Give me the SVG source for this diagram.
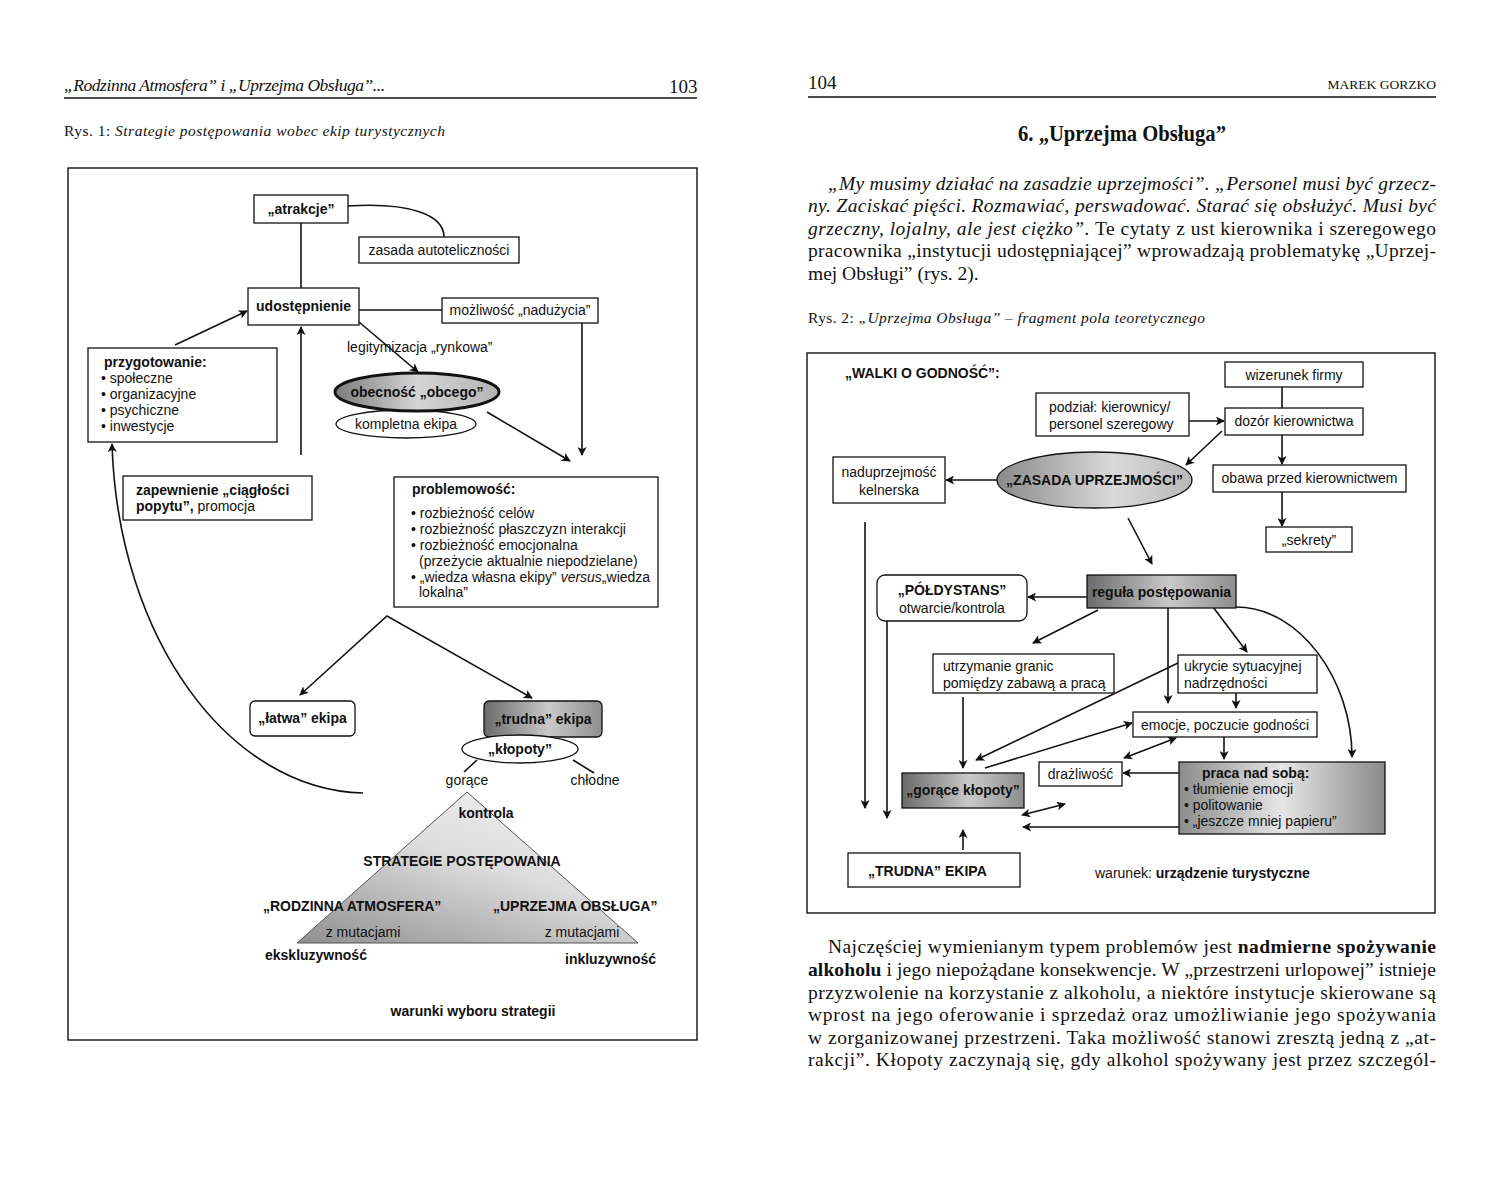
<svg xmlns="http://www.w3.org/2000/svg" width="1500" height="1204" viewBox="0 0 1500 1204">
<style>
.s{font-family:"Liberation Sans",Arial,sans-serif;font-size:14px;fill:#111}
.b{font-weight:bold}
.c{text-anchor:middle}
.serif{font-family:"Liberation Serif","Times New Roman",serif;fill:#111}
.it{font-style:italic}
.box{fill:#fff;stroke:#111;stroke-width:1.3}
.ln{fill:none;stroke:#111;stroke-width:1.6}
.ar{fill:none;stroke:#111;stroke-width:1.6;marker-end:url(#ah)}
.dar{fill:none;stroke:#111;stroke-width:1.6;marker-end:url(#ah);marker-start:url(#ah)}
</style>
<defs>
<marker id="ah" viewBox="0 0 10 10" refX="9" refY="5" markerWidth="11" markerHeight="9" markerUnits="userSpaceOnUse" orient="auto-start-reverse">
<path d="M0,0 L10,5 L0,10 L2.5,5 z" fill="#111"/>
</marker>
<linearGradient id="gObec" x1="0" y1="0" x2="1" y2="0">
<stop offset="0" stop-color="#7c7c7c"/><stop offset="0.5" stop-color="#d4d4d4"/><stop offset="1" stop-color="#b4b4b4"/>
</linearGradient>
<linearGradient id="gDark" x1="0" y1="0" x2="1" y2="0">
<stop offset="0" stop-color="#6a6a6a"/><stop offset="0.55" stop-color="#c9c9c9"/><stop offset="1" stop-color="#8e8e8e"/>
</linearGradient>
<linearGradient id="gTri" x1="0" y1="1" x2="0.7" y2="0">
<stop offset="0" stop-color="#8f8f8f"/><stop offset="0.6" stop-color="#dcdcdc"/><stop offset="1" stop-color="#eeeeee"/>
</linearGradient>
<linearGradient id="gZas" x1="0" y1="0" x2="1" y2="0">
<stop offset="0" stop-color="#8a8a8a"/><stop offset="0.6" stop-color="#dadada"/><stop offset="1" stop-color="#b8b8b8"/>
</linearGradient>
<linearGradient id="gPraca" x1="0" y1="0" x2="1" y2="0">
<stop offset="0" stop-color="#8c8c8c"/><stop offset="0.5" stop-color="#e6e6e6"/><stop offset="1" stop-color="#8a8a8a"/>
</linearGradient>
</defs>
<rect width="1500" height="1204" fill="#fff"/>

<!-- ===== LEFT PAGE ===== -->
<g id="left-header">
<text class="serif it" x="64" y="91" font-size="17.5" textLength="321" lengthAdjust="spacing">„Rodzinna Atmosfera” i „Uprzejma Obsługa”...</text>
<text class="serif" x="669" y="93" font-size="19">103</text>
<line x1="64" y1="98" x2="697" y2="98" stroke="#111" stroke-width="1.3"/>
<text class="serif" x="64" y="136" font-size="15.5" textLength="381" lengthAdjust="spacing">Rys. 1: <tspan class="it">Strategie postępowania wobec ekip turystycznych</tspan></text>
</g>
<rect id="frame1" x="68" y="168" width="629" height="872" fill="none" stroke="#111" stroke-width="1.4"/>

<g id="connectors1">
<path class="ln" d="M348,206 C410,202 444,215 444,237" stroke-width="2"/>
<line class="ln" x1="301" y1="223" x2="301" y2="288"/>
<line class="ln" x1="359" y1="310" x2="442" y2="310"/>
<line class="ar" x1="582" y1="323" x2="582" y2="455"/>
<line class="ar" x1="359" y1="322" x2="418" y2="372"/>
<line class="ar" x1="487" y1="412" x2="570" y2="461"/>
<line class="ar" x1="175" y1="345" x2="247" y2="311"/>
<line class="ar" x1="301" y1="455" x2="301" y2="327"/>
<path class="ar" d="M363,793 C230,790 118,640 112,444"/>
<polyline class="ln" points="300,695 387,616 532,698" marker-start="url(#ah)" marker-end="url(#ah)"/>
<line class="ln" x1="477" y1="760" x2="464" y2="772"/>
<line class="ln" x1="573" y1="760" x2="594" y2="773"/>
</g>

<g id="n-atrakcje"><rect class="box" x="254" y="195" width="94" height="28"/><text class="s b c" x="301" y="214">„atrakcje”</text></g>
<g id="n-zasada-auto"><rect class="box" x="359" y="237" width="160" height="26"/><text class="s c" x="439" y="255">zasada autoteliczności</text></g>
<g id="n-udostepnienie"><rect class="box" x="248" y="288" width="111" height="37"/><text class="s b c" x="303.5" y="311">udostępnienie</text></g>
<g id="n-mozliwosc"><rect class="box" x="442" y="298" width="156" height="25"/><text class="s c" x="520" y="315">możliwość „nadużycia”</text></g>
<g id="n-legitymizacja"><text class="s" x="347" y="352">legitymizacja „rynkowa”</text></g>
<g id="n-kompletna"><ellipse cx="406" cy="424" rx="70" ry="14" fill="#fff" stroke="#111" stroke-width="1.3"/><text class="s c" x="406" y="429">kompletna ekipa</text></g>
<g id="n-obecnosc"><ellipse cx="417" cy="392" rx="82" ry="19" fill="url(#gObec)" stroke="#111" stroke-width="3"/><text class="s b c" x="417" y="397">obecność „obcego”</text></g>
<g id="n-przygotowanie"><rect class="box" x="88" y="348" width="189" height="94"/>
<text class="s b" x="104" y="367">przygotowanie:</text>
<text class="s" x="101" y="383">• społeczne</text>
<text class="s" x="101" y="399">• organizacyjne</text>
<text class="s" x="101" y="415">• psychiczne</text>
<text class="s" x="101" y="431">• inwestycje</text></g>
<g id="n-zapewnienie"><rect class="box" x="123" y="476" width="189" height="44"/>
<text class="s b" x="136" y="495">zapewnienie „ciągłości</text>
<text class="s" x="136" y="511"><tspan class="b">popytu”,</tspan> promocja</text></g>
<g id="n-problemowosc"><rect class="box" x="394" y="477" width="264" height="130"/>
<text class="s b" x="412" y="494">problemowość:</text>
<text class="s" x="411" y="518">• rozbieżność celów</text>
<text class="s" x="411" y="534">• rozbieżność płaszczyzn interakcji</text>
<text class="s" x="411" y="550">• rozbieżność emocjonalna</text>
<text class="s" x="419" y="566">(przeżycie aktualnie niepodzielane)</text>
<text class="s" x="411" y="582">• „wiedza własna ekipy” <tspan font-style="italic">versus</tspan>„wiedza</text>
<text class="s" x="419" y="597">lokalna”</text></g>
<g id="n-latwa"><rect class="box" x="250" y="701" width="105" height="35" rx="5"/><text class="s b c" x="302.5" y="723">„łatwa” ekipa</text></g>
<g id="n-trudna"><rect x="484" y="701" width="118" height="36" rx="5" fill="url(#gDark)" stroke="#111" stroke-width="1.3"/><text class="s b c" x="543" y="724">„trudna” ekipa</text></g>
<g id="n-klopoty"><ellipse cx="520" cy="749" rx="58" ry="14" fill="#fff" stroke="#111" stroke-width="1.3"/><text class="s b c" x="520" y="754">„kłopoty”</text></g>
<g id="n-gorace"><text class="s c" x="467" y="785">gorące</text></g>
<g id="n-chlodne"><text class="s c" x="595" y="785">chłodne</text></g>
<g id="n-triangle"><polygon points="467,792 297,943 638,943" fill="url(#gTri)" stroke="#555" stroke-width="1"/>
<text class="s b c" x="486" y="818">kontrola</text>
<text class="s b c" x="462" y="866">STRATEGIE POSTĘPOWANIA</text>
<text class="s b" x="263" y="911">„RODZINNA ATMOSFERA”</text>
<text class="s b" x="493" y="911">„UPRZEJMA OBSŁUGA”</text>
<text class="s c" x="363" y="937">z mutacjami</text>
<text class="s c" x="582" y="937">z mutacjami</text>
<text class="s b" x="265" y="960">ekskluzywność</text>
<text class="s b" x="565" y="964">inkluzywność</text></g>
<g id="n-warunki"><text class="s b c" x="473" y="1016">warunki wyboru strategii</text></g>

<!-- ===== RIGHT PAGE ===== -->
<g id="right-header">
<text class="serif" x="808" y="89" font-size="19">104</text>
<text class="serif" x="1436" y="89" font-size="13.5" text-anchor="end">MAREK GORZKO</text>
<line x1="808" y1="97" x2="1436" y2="97" stroke="#111" stroke-width="1.3"/>
<text class="serif" x="1122" y="141" font-size="22.5" font-weight="bold" text-anchor="middle" textLength="208" lengthAdjust="spacingAndGlyphs">6. „Uprzejma Obsługa”</text>
<text class="serif" font-size="19.5" x="828" y="190" textLength="608" lengthAdjust="spacing"><tspan class="it">„My musimy działać na zasadzie uprzejmości”. „Personel musi być grzecz-</tspan></text>
<text class="serif" font-size="19.5" x="808" y="212" textLength="628" lengthAdjust="spacing"><tspan class="it">ny. Zaciskać pięści. Rozmawiać, perswadować. Starać się obsłużyć. Musi być</tspan></text>
<text class="serif" font-size="19.5" x="808" y="235" textLength="628" lengthAdjust="spacing"><tspan class="it">grzeczny, lojalny, ale jest ciężko”.</tspan> Te cytaty z ust kierownika i szeregowego</text>
<text class="serif" font-size="19.5" x="808" y="257" textLength="628" lengthAdjust="spacing">pracownika „instytucji udostępniającej” wprowadzają problematykę „Uprzej-</text>
<text class="serif" font-size="19.5" x="808" y="280">mej Obsługi” (rys. 2).</text>
<text class="serif" x="808" y="323" font-size="15.5" textLength="397" lengthAdjust="spacing">Rys. 2: <tspan class="it">„Uprzejma Obsługa” – fragment pola teoretycznego</tspan></text>
</g>
<rect id="frame2" x="807" y="353" width="628" height="560" fill="none" stroke="#111" stroke-width="1.4"/>

<g id="connectors2">
<line class="ln" x1="1282" y1="387" x2="1282" y2="408"/>
<line class="ar" x1="1189" y1="421" x2="1224" y2="421"/>
<line class="ar" x1="1222" y1="431" x2="1186" y2="465"/>
<line class="ar" x1="1282" y1="435" x2="1282" y2="464"/>
<line class="ar" x1="1282" y1="492" x2="1282" y2="526"/>
<line class="ar" x1="997" y1="480" x2="946" y2="480"/>
<line class="ar" x1="1128" y1="518" x2="1152" y2="564"/>
<line class="ar" x1="1087" y1="597" x2="1028" y2="597"/>
<line class="ar" x1="865" y1="522" x2="865" y2="808"/>
<line class="ar" x1="887" y1="621" x2="887" y2="818"/>
<line class="ar" x1="1098" y1="610" x2="1033" y2="643"/>
<line class="ar" x1="1168" y1="608" x2="1168" y2="703"/>
<line class="ar" x1="1213" y1="607" x2="1247" y2="652"/>
<path class="ar" d="M1236,607 C1300,607 1352,680 1352,757"/>
<line class="ar" x1="963" y1="697" x2="963" y2="768"/>
<line class="ar" x1="1178" y1="663" x2="976" y2="760"/>
<line class="ar" x1="985" y1="768" x2="1132" y2="723"/>
<line class="ar" x1="1236" y1="693" x2="1236" y2="708"/>
<line class="ar" x1="1224" y1="737" x2="1224" y2="759"/>
<line class="ar" x1="1179" y1="773" x2="1123" y2="773"/>
<line class="dar" x1="1124" y1="758" x2="1176" y2="738"/>
<line class="dar" x1="1022" y1="815" x2="1065" y2="804"/>
<line class="ar" x1="1179" y1="827" x2="1023" y2="827"/>
<line class="ar" x1="963" y1="850" x2="963" y2="830"/>
</g>

<g id="n-walki"><text class="s b" x="845" y="378">„WALKI O GODNOŚĆ”:</text></g>
<g id="n-podzial"><rect class="box" x="1036" y="393" width="153" height="43"/><text class="s" x="1049" y="412">podział: kierownicy/</text><text class="s" x="1049" y="429">personel szeregowy</text></g>
<g id="n-wizerunek"><rect class="box" x="1225" y="362" width="138" height="25"/><text class="s c" x="1294" y="380">wizerunek firmy</text></g>
<g id="n-dozor"><rect class="box" x="1225" y="408" width="138" height="27"/><text class="s c" x="1294" y="426">dozór kierownictwa</text></g>
<g id="n-obawa"><rect class="box" x="1213" y="465" width="193" height="27"/><text class="s c" x="1309.5" y="483">obawa przed kierownictwem</text></g>
<g id="n-sekrety"><rect class="box" x="1266" y="527" width="86" height="25"/><text class="s c" x="1309" y="545">„sekrety”</text></g>
<g id="n-naduprzejmosc"><rect class="box" x="833" y="457" width="112" height="46"/><text class="s c" x="889" y="477">naduprzejmość</text><text class="s c" x="889" y="495">kelnerska</text></g>
<g id="n-zasada"><ellipse cx="1094.5" cy="480" rx="97.5" ry="28" fill="url(#gZas)" stroke="#111" stroke-width="1.3"/><text class="s b c" x="1094.5" y="485">„ZASADA UPRZEJMOŚCI”</text></g>
<g id="n-regula"><rect x="1087" y="575" width="149" height="33" fill="url(#gDark)" stroke="#111" stroke-width="1.3"/><text class="s b c" x="1161.5" y="597">reguła postępowania</text></g>
<g id="n-poldystans"><rect class="box" x="877" y="575" width="150" height="46" rx="8"/><text class="s b c" x="952" y="595">„PÓŁDYSTANS”</text><text class="s c" x="952" y="613">otwarcie/kontrola</text></g>
<g id="n-utrzymanie"><rect class="box" x="933" y="654" width="181" height="39"/><text class="s" x="943" y="671">utrzymanie granic</text><text class="s" x="943" y="688">pomiędzy zabawą a pracą</text></g>
<g id="n-ukrycie"><rect class="box" x="1178" y="655" width="139" height="38"/><text class="s" x="1184" y="671">ukrycie sytuacyjnej</text><text class="s" x="1184" y="688">nadrzędności</text></g>
<g id="n-emocje"><rect class="box" x="1133" y="712" width="184" height="25"/><text class="s c" x="1225" y="730">emocje, poczucie godności</text></g>
<g id="n-drazliwosc"><rect class="box" x="1039" y="762" width="83" height="24"/><text class="s c" x="1080.5" y="779">drażliwość</text></g>
<g id="n-goraceklopoty"><rect x="902" y="773" width="122" height="35" fill="url(#gDark)" stroke="#111" stroke-width="1.3"/><text class="s b c" x="963" y="795">„gorące kłopoty”</text></g>
<g id="n-praca"><rect x="1179" y="762" width="206" height="72" fill="url(#gPraca)" stroke="#111" stroke-width="1.3"/>
<text class="s b" x="1202" y="778">praca nad sobą:</text>
<text class="s" x="1184" y="794">• tłumienie emocji</text>
<text class="s" x="1184" y="810">• politowanie</text>
<text class="s" x="1184" y="826">• „jeszcze mniej papieru”</text></g>
<g id="n-trudna-ekipa"><rect class="box" x="848" y="853" width="172" height="34"/><text class="s b" x="868" y="876">„TRUDNA” EKIPA</text></g>
<g id="n-warunek"><text class="s" x="1095" y="878">warunek: <tspan class="b">urządzenie turystyczne</tspan></text></g>

<g id="right-body">
<text class="serif" font-size="19.5" x="828" y="953" textLength="608" lengthAdjust="spacing">Najczęściej wymienianym typem problemów jest <tspan font-weight="bold">nadmierne spożywanie</tspan></text>
<text class="serif" font-size="19.5" x="808" y="976" textLength="628" lengthAdjust="spacing"><tspan font-weight="bold">alkoholu</tspan> i jego niepożądane konsekwencje. W „przestrzeni urlopowej” istnieje</text>
<text class="serif" font-size="19.5" x="808" y="999" textLength="628" lengthAdjust="spacing">przyzwolenie na korzystanie z alkoholu, a niektóre instytucje skierowane są</text>
<text class="serif" font-size="19.5" x="808" y="1021" textLength="628" lengthAdjust="spacing">wprost na jego oferowanie i sprzedaż oraz umożliwianie jego spożywania</text>
<text class="serif" font-size="19.5" x="808" y="1044" textLength="628" lengthAdjust="spacing">w zorganizowanej przestrzeni. Taka możliwość stanowi zresztą jedną z „at-</text>
<text class="serif" font-size="19.5" x="808" y="1066" textLength="628" lengthAdjust="spacing">rakcji”. Kłopoty zaczynają się, gdy alkohol spożywany jest przez szczegól-</text>
</g>
</svg>
